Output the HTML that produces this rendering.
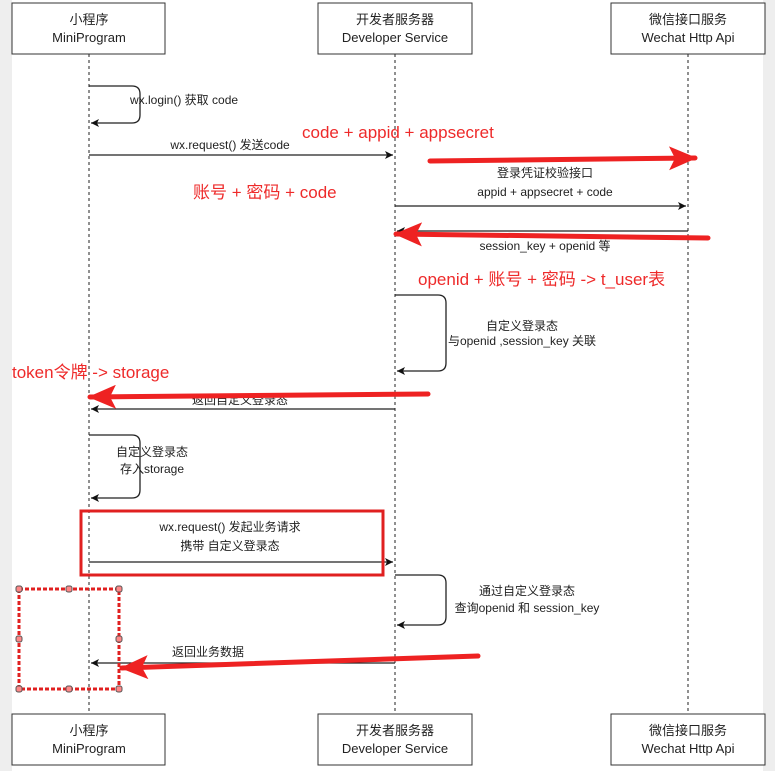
<!DOCTYPE html>
<html><head><meta charset="utf-8"><style>
body{margin:0;background:#eeeeee;}
svg{display:block}
text{font-family:"Liberation Sans","Noto Sans CJK SC",sans-serif;}
</style></head><body>
<svg width="775" height="771" viewBox="0 0 775 771" xmlns="http://www.w3.org/2000/svg">
<defs>
<marker id="a" markerWidth="10" markerHeight="10" refX="8" refY="5" orient="auto" markerUnits="userSpaceOnUse"><path d="M0,1 L8,5 L0,9 L2,5 z" fill="#111"/></marker>
<marker id="r" markerWidth="30" markerHeight="24" refX="26" refY="12" orient="auto" markerUnits="userSpaceOnUse"><path d="M0,0 L28,12 L0,24 L6,12 z" fill="#ee2222"/></marker>
</defs>
<rect x="12" y="0" width="751" height="771" fill="#fff"/>
<g stroke="#222" stroke-width="1" stroke-dasharray="3,3">
<line x1="89" y1="54" x2="89" y2="714"/><line x1="395" y1="54" x2="395" y2="714"/><line x1="688" y1="54" x2="688" y2="714"/>
</g>
<g fill="#fff" stroke="#333" stroke-width="1">
<rect x="12" y="3" width="153" height="51"/><rect x="318" y="3" width="154" height="51"/><rect x="611" y="3" width="154" height="51"/>
<rect x="12" y="714" width="153" height="51"/><rect x="318" y="714" width="154" height="51"/><rect x="611" y="714" width="154" height="51"/>
</g>
<g font-size="13" fill="#222" text-anchor="middle">
<text x="89" y="24">小程序</text><text x="89" y="42">MiniProgram</text>
<text x="395" y="24">开发者服务器</text><text x="395" y="42">Developer Service</text>
<text x="688" y="24">微信接口服务</text><text x="688" y="42">Wechat Http Api</text>
<text x="89" y="735">小程序</text><text x="89" y="753">MiniProgram</text>
<text x="395" y="735">开发者服务器</text><text x="395" y="753">Developer Service</text>
<text x="688" y="735">微信接口服务</text><text x="688" y="753">Wechat Http Api</text>
</g>
<g fill="none" stroke="#222" stroke-width="1.3">
<path d="M89,86 H132 Q140,86 140,94 V115 Q140,123 132,123 H91" marker-end="url(#a)"/>
<line x1="89" y1="155" x2="393" y2="155" marker-end="url(#a)"/>
<line x1="395" y1="206" x2="686" y2="206" marker-end="url(#a)"/>
<line x1="688" y1="231" x2="397" y2="231" marker-end="url(#a)"/>
<path d="M395,295 H438 Q446,295 446,303 V363 Q446,371 438,371 H397" marker-end="url(#a)"/>
<line x1="395" y1="409" x2="91" y2="409" marker-end="url(#a)"/>
<path d="M89,435 H132 Q140,435 140,443 V490 Q140,498 132,498 H91" marker-end="url(#a)"/>
<line x1="89" y1="562" x2="393" y2="562" marker-end="url(#a)"/>
<path d="M395,575 H438 Q446,575 446,583 V617 Q446,625 438,625 H397" marker-end="url(#a)"/>
<line x1="395" y1="663" x2="91" y2="663" marker-end="url(#a)"/>
</g>
<g font-size="12" fill="#222" text-anchor="middle">
<text x="130" y="104" text-anchor="start">wx.login() 获取 code</text>
<text x="230" y="149">wx.request() 发送code</text>
<text x="545" y="177">登录凭证校验接口</text>
<text x="545" y="196">appid + appsecret + code</text>
<text x="545" y="250">session_key + openid 等</text>
<text x="522" y="330">自定义登录态</text>
<text x="522" y="345">与openid ,session_key 关联</text>
<text x="240" y="404">返回自定义登录态</text>
<text x="152" y="456">自定义登录态</text>
<text x="152" y="473">存入storage</text>
<text x="230" y="531">wx.request() 发起业务请求</text>
<text x="230" y="550">携带 自定义登录态</text>
<text x="527" y="595">通过自定义登录态</text>
<text x="527" y="612">查询openid 和 session_key</text>
<text x="172" y="656" text-anchor="start">返回业务数据</text>
</g>
<g fill="#ee2a2a" font-size="17">
<text x="302" y="138">code + appid + appsecret</text>
<text x="193" y="198">账号 + 密码 + code</text>
<text x="418" y="285">openid + 账号 + 密码 -&gt; t_user表</text>
<text x="12" y="378">token令牌 -&gt; storage</text>
</g>
<g stroke="#ee2222" stroke-width="5" fill="none" stroke-linecap="round">
<line x1="430" y1="161" x2="695" y2="158" marker-end="url(#r)"/>
<line x1="708" y1="238" x2="396" y2="234" marker-end="url(#r)"/>
<line x1="428" y1="394" x2="90" y2="397" marker-end="url(#r)"/>
<line x1="478" y1="656" x2="122" y2="668" marker-end="url(#r)"/>
</g>
<rect x="81" y="511" width="302" height="64" fill="none" stroke="#e02020" stroke-width="3"/>
<rect x="19" y="589" width="100" height="100" fill="none" stroke="#e02020" stroke-width="3" stroke-dasharray="4,2"/>
<g fill="#f88" stroke="#555" stroke-width="1">
<rect x="16" y="586" width="6" height="6" rx="2"/><rect x="66" y="586" width="6" height="6" rx="2"/><rect x="116" y="586" width="6" height="6" rx="2"/>
<rect x="16" y="636" width="6" height="6" rx="2"/><rect x="116" y="636" width="6" height="6" rx="2"/>
<rect x="16" y="686" width="6" height="6" rx="2"/><rect x="66" y="686" width="6" height="6" rx="2"/><rect x="116" y="686" width="6" height="6" rx="2"/>
</g>
</svg>
</body></html>
